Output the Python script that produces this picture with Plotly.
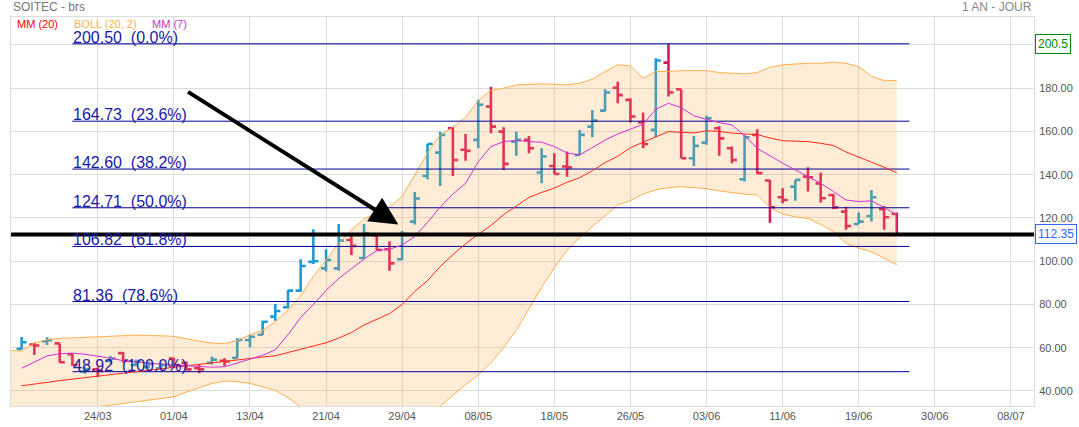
import plotly.graph_objects as go

# ---------------- data ----------------
DATE_TICK_IDX = [6, 12, 18, 24, 30, 36, 42, 48, 54, 60, 66, 72, 78]
DATE_TICK_TXT = ['24/03', '01/04', '13/04', '21/04', '29/04', '08/05', '18/05',
                 '26/05', '03/06', '11/06', '19/06', '30/06', '08/07']

OPEN = [59.5, 61.5, 63.0, 62.0, 57.0, 49.0, 50.0, 54.0, 57.5, 52.0,
        51.0, 50.5, 55.0, 53.0, 50.5, 53.0, 54.0, 55.3, 63.6, 66.0,
        74.4, 78.7, 86.4, 99.7, 96.7, 96.7, 109.8, 101.5, 112.0, 105.5,
        100.9, 118.3, 139.4, 150.2, 161.5, 151.5, 156.1, 171.5, 159.9, 155.3,
        156.1, 141.0, 144.0, 143.8, 149.1, 162.2, 169.6, 180.2, 174.6, 164.1,
        160.7, 191.8, 179.5, 147.6, 154.8, 161.5, 152.2, 137.9, 158.4, 137.3,
        129.6, 134.5, 139.1, 136.0, 130.6, 122.9, 117.2, 120.9, 124.0, 121.8]
HIGH = [65.0, 62.3, 64.8, 62.0, 57.2, 51.2, 51.0, 56.2, 58.0, 54.6,
        53.5, 53.0, 55.2, 53.5, 52.0, 55.9, 55.1, 64.4, 65.9, 72.5,
        80.2, 86.7, 100.9, 114.8, 105.5, 117.2, 112.9, 117.2, 112.9, 109.1,
        114.0, 132.0, 154.2, 159.9, 162.2, 158.8, 174.6, 180.7, 161.9, 159.9,
        157.9, 152.2, 149.9, 150.7, 160.7, 169.9, 179.5, 183.0, 175.3, 168.7,
        193.8, 200.5, 179.5, 157.9, 167.2, 162.5, 153.0, 158.4, 161.0, 137.6,
        133.7, 137.6, 143.4, 141.0, 131.1, 125.2, 122.5, 132.9, 125.5, 122.5]
LOW = [59.3, 56.6, 61.3, 53.1, 51.5, 48.0, 46.5, 52.8, 53.0, 51.5,
       50.5, 50.0, 50.5, 49.5, 48.2, 52.3, 51.5, 55.0, 60.2, 65.9,
       72.5, 78.2, 85.9, 98.7, 95.2, 95.6, 102.9, 101.3, 105.0, 95.6,
       100.5, 117.0, 137.9, 134.8, 139.4, 146.5, 152.2, 159.2, 142.2, 148.7,
       149.9, 136.0, 140.3, 139.1, 149.1, 157.3, 169.2, 173.0, 164.1, 152.2,
       157.3, 176.1, 147.6, 144.0, 153.8, 148.7, 145.3, 136.8, 140.3, 117.8,
       126.8, 128.0, 132.2, 127.1, 124.0, 114.5, 117.2, 118.3, 114.5, 112.0]
CLOSE = [62.5, 61.0, 63.5, 53.3, 52.0, 50.0, 49.3, 55.0, 54.0, 53.5,
         52.5, 52.0, 52.0, 50.0, 50.0, 54.5, 53.6, 63.6, 65.1, 72.0,
         77.0, 86.4, 97.8, 100.0, 100.6, 109.5, 107.1, 112.9, 105.2, 99.0,
         112.5, 129.0, 154.2, 158.4, 146.8, 151.0, 172.3, 162.2, 145.0, 156.1,
         152.2, 148.4, 140.3, 143.4, 158.4, 165.0, 178.0, 176.8, 166.9, 154.2,
         192.8, 178.0, 147.6, 153.3, 166.1, 156.8, 146.8, 157.3, 140.7, 124.9,
         128.3, 137.6, 138.8, 129.1, 124.9, 116.3, 118.3, 129.6, 120.3, 112.35]

MM20 = [42.4, 43.3, 44.0, 44.8, 45.5, 46.2, 46.8, 47.5, 48.2, 48.8,
        49.5, 50.1, 50.8, 51.5, 52.4, 53.2, 53.9, 54.5, 55.2, 55.7,
        56.3, 57.8, 59.2, 60.5, 62.3, 64.5, 67.0, 70.5, 73.2, 75.8,
        80.0, 86.0, 91.0, 97.5, 103.0, 108.0, 112.5, 116.5, 121.5, 125.5,
        129.5, 131.8, 133.8, 136.5, 138.6, 141.8, 145.6, 148.5, 152.5, 155.0,
        157.5, 159.9, 159.6, 159.3, 160.3, 160.0, 159.2, 158.8, 158.5, 157.0,
        155.7, 155.5, 155.3, 154.5, 153.5, 150.5, 148.3, 145.8, 143.5, 140.9]
MM7 = [50.5, 53.5, 56.2, 57.2, 57.5, 57.0, 56.2, 55.2, 54.0, 53.4,
       52.9, 52.4, 52.0, 51.6, 51.3, 51.0, 51.2, 53.0, 55.0, 56.5,
       59.0, 66.0, 74.0, 80.0, 86.5, 92.0, 96.5, 101.0, 104.9, 105.5,
       107.5, 111.5, 118.0, 125.0, 131.0, 136.0, 146.0, 153.0, 155.3, 155.8,
       155.3, 155.0, 153.0, 150.0, 149.1, 152.5, 156.0, 158.8, 161.0, 163.3,
       170.2, 173.0, 171.0, 167.2, 165.6, 164.1, 163.0, 158.0, 152.2, 148.7,
       145.3, 142.2, 139.1, 136.0, 132.2, 128.3, 127.6, 127.9, 124.9, 121.4]
# Bollinger band starts one bar before the first visible bar
BOLL_UP = [58.6, 58.6, 62.2, 63.8, 64.3, 64.6, 64.8, 64.9, 65.2, 65.5, 65.8,
           65.7, 65.5, 65.3, 64.2, 63.0, 62.2, 61.9, 63.4, 66.0, 68.0,
           72.0, 77.5, 84.0, 93.0, 100.6, 108.3, 114.5, 119.5, 122.5, 125.0,
           130.0, 140.0, 150.0, 158.4, 162.0, 166.5, 174.3, 179.0, 180.0, 181.5,
           181.8, 182.0, 181.8, 181.5, 182.3, 184.2, 187.7, 190.8, 190.3, 184.6,
           187.7, 187.7, 188.1, 188.1, 188.1, 187.2, 186.8, 186.6, 187.2, 189.7,
           190.8, 191.3, 191.5, 191.5, 192.0, 191.5, 190.0, 185.5, 183.5, 183.5]
BOLL_LO = [27.0, 27.5, 28.0, 28.5, 29.0, 30.0, 31.0, 32.7, 33.5, 34.2, 35.0,
           35.8, 36.5, 37.3, 39.5, 41.5, 43.5, 44.6, 44.3, 43.5, 42.0,
           40.3, 37.0, 32.5, 27.0, 23.0, 20.0, 18.0, 17.0, 17.0, 18.0,
           19.0, 21.0, 27.0, 33.0, 38.0, 43.0, 47.4, 53.0, 60.0, 68.0,
           78.0, 88.0, 97.0, 105.0, 111.0, 116.0, 121.0, 126.0, 128.0, 131.0,
           133.0, 134.0, 134.5, 134.0, 133.5, 132.5, 131.7, 131.0, 130.6, 124.9,
           121.8, 120.5, 119.8, 117.0, 113.7, 108.3, 106.0, 104.4, 101.4, 98.3]

FIB_LEVELS = [200.50, 164.73, 142.60, 124.71, 106.82, 81.36, 48.92]
FIB_PCT = ['0.0%', '23.6%', '38.2%', '50.0%', '61.8%', '78.6%', '100.0%']

Y_TICKS = [40, 60, 80, 100, 120, 140, 160, 180, 200]
Y_TICK_TXT = ['40.000', '60.00', '80.00', '100.00', '120.00', '140.00', '160.00', '180.00', '']

ARROW_FROM = (13.0, 178.7)
ARROW_TO = (29.7, 117.0)

# ---------------- styling ----------------
BLUE = '#1f9bd3'
RED = '#d8185e'
ORANGE = '#ffb04f'
FILL = 'rgba(255,165,60,0.21)'
MAGENTA = '#d22fd2'
MMRED = '#ff2a1a'
NAVY = '#000099'
FIBTXT = '#1a1aa8'
GRID = '#dddddd'
FONT = 'Liberation Sans, Arial, sans-serif'

bars = list(range(len(CLOSE)))
band_x = list(range(-1, len(CLOSE)))
FIB_START, FIB_END = 4, 70

fig = go.Figure()

fig.add_trace(go.Scatter(x=band_x, y=BOLL_LO, mode='lines',
                         line=dict(color=ORANGE, width=1), hoverinfo='skip', showlegend=False))
fig.add_trace(go.Scatter(x=band_x, y=BOLL_UP, mode='lines', fill='tonexty', fillcolor=FILL,
                         line=dict(color=ORANGE, width=1), hoverinfo='skip', showlegend=False))

for lvl in FIB_LEVELS:
    fig.add_trace(go.Scatter(x=[FIB_START, FIB_END], y=[lvl, lvl], mode='lines',
                             line=dict(color=NAVY, width=1), hoverinfo='skip', showlegend=False))

fig.add_trace(go.Scatter(x=bars, y=MM20, mode='lines', line=dict(color=MMRED, width=1),
                         hoverinfo='skip', showlegend=False))
fig.add_trace(go.Scatter(x=bars, y=MM7, mode='lines', line=dict(color=MAGENTA, width=1),
                         hoverinfo='skip', showlegend=False))

fig.add_trace(go.Ohlc(x=bars, open=OPEN, high=HIGH, low=LOW, close=CLOSE,
                      increasing=dict(line=dict(color=BLUE, width=2.6)),
                      decreasing=dict(line=dict(color=RED, width=2.6)),
                      tickwidth=0.4, hoverinfo='skip', showlegend=False))

annotations = []
for lvl, pct in zip(FIB_LEVELS, FIB_PCT):
    annotations.append(dict(x=FIB_START, y=lvl, xref='x', yref='y', xanchor='left', yanchor='bottom',
                            yshift=-3, text=f'{lvl:.2f}\u00a0 ({pct})', showarrow=False, borderpad=0,
                            font=dict(family=FONT, size=16, color=FIBTXT)))

annotations.append(dict(x=ARROW_TO[0], y=ARROW_TO[1], ax=ARROW_FROM[0], ay=ARROW_FROM[1],
                        xref='x', yref='y', axref='x', ayref='y', showarrow=True,
                        arrowhead=2, arrowsize=1.4, arrowwidth=4, arrowcolor='black', text=''))

# header texts
annotations.append(dict(x=0, y=1.0, xref='paper', yref='paper', xanchor='left', yanchor='bottom',
                        yshift=1, text='SOITEC - brs', showarrow=False,
                        font=dict(family=FONT, size=12, color='#777777')))
annotations.append(dict(x=1, y=1.0, xref='paper', yref='paper', xanchor='right', yanchor='bottom',
                        yshift=1, text='1 AN - JOUR', showarrow=False,
                        font=dict(family=FONT, size=12, color='#888888')))
for txt, col, px in [('MM (20)', '#ff0000', 4), ('BOLL (20, 2)', '#ffb04f', 61), ('MM (7)', '#cc33cc', 139)]:
    annotations.append(dict(x=0, y=1.0, xref='paper', yref='paper', xanchor='left', yanchor='top',
                            xshift=px, yshift=1, text=txt, showarrow=False,
                            font=dict(family=FONT, size=11, color=col)))

# price boxes on the right axis
annotations.append(dict(x=1, y=HIGH[51], xref='paper', yref='y', xanchor='left', yanchor='middle',
                        xshift=1, text=f'{HIGH[51]:.1f}', showarrow=False, bgcolor='white',
                        bordercolor='#008800', borderwidth=1, borderpad=2,
                        font=dict(family=FONT, size=12, color='#008800')))
annotations.append(dict(x=1, y=CLOSE[-1], xref='paper', yref='y', xanchor='left', yanchor='middle',
                        xshift=1, text=f'{CLOSE[-1]:.2f}', showarrow=False, bgcolor='white',
                        bordercolor='#3366ff', borderwidth=1, borderpad=2,
                        font=dict(family=FONT, size=12, color='#3366ff')))

shapes = [dict(type='line', xref='paper', yref='y', x0=0, x1=1, y0=CLOSE[-1], y1=CLOSE[-1],
               line=dict(color='black', width=4), layer='above')]

fig.update_layout(
    width=1079, height=427, autosize=False,
    margin=dict(l=11, r=45, t=17, b=21),
    paper_bgcolor='white', plot_bgcolor='white',
    showlegend=False,
    annotations=annotations, shapes=shapes,
    xaxis=dict(range=[-0.84, 79.82], tickmode='array', tickvals=DATE_TICK_IDX, ticktext=DATE_TICK_TXT,
               showgrid=True, gridcolor=GRID, gridwidth=1, zeroline=False, automargin=False,
               showline=True, linecolor=GRID, mirror=True, ticks='',
               tickfont=dict(family=FONT, size=11, color='#555555'),
               rangeslider=dict(visible=False), fixedrange=True),
    yaxis=dict(range=[33.06, 212.9], side='right', tickmode='array', tickvals=Y_TICKS, ticktext=Y_TICK_TXT,
               showgrid=True, gridcolor=GRID, gridwidth=1, zeroline=False, automargin=False,
               showline=True, linecolor=GRID, mirror=True, ticks='outside', ticklen=2, tickcolor='white',
               tickfont=dict(family=FONT, size=11, color='#555555'), fixedrange=True),
)

fig.write_html('out.html', config={'displayModeBar': False})
